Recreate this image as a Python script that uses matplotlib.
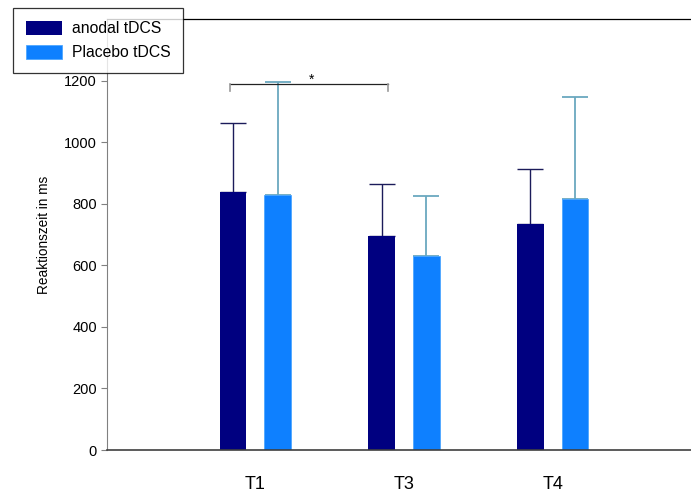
import numpy as np
import matplotlib
matplotlib.use("Agg")
import matplotlib.pyplot as plt

plt.rcParams['font.family'] = ['Liberation Sans', 'DejaVu Sans']

# values (ms)
sessions = ["T1", "T3", "T4"]
anodal_mean = [839, 694, 734]
anodal_sd = [224, 170, 179]
placebo_mean = [827, 631, 815]
placebo_sd = [369, 195, 333]
y_ticks = [0, 200, 400, 600, 800, 1000, 1200]

col_anodal = "#000080"
col_placebo = "#0E80FF"

fig = plt.figure(figsize=(6.91, 4.97), dpi=100)
ax = fig.add_axes([106.5 / 691, 47 / 497, 1 - 106.5 / 691, 431 / 497])

x = np.arange(len(sessions))
w = 0.18
off = 0.15

ax.bar(x - off, anodal_mean, w, color=col_anodal, label="anodal tDCS", zorder=2)
ax.bar(x + off, placebo_mean, w, color=col_placebo, edgecolor="#4da6ff",
       linewidth=0.6, label="Placebo tDCS", zorder=2)

ax.errorbar(x - off, anodal_mean, yerr=[np.zeros(3), anodal_sd], fmt="none",
            ecolor="#1b1b5a", elinewidth=1.0, capsize=9.5, capthick=1.0, zorder=1)
ax.errorbar(x + off, placebo_mean, yerr=[np.zeros(3), placebo_sd], fmt="none",
            ecolor="#6aa8bf", elinewidth=1.3, capsize=9.5, capthick=1.3, zorder=1)

# significance bracket T1 vs T3
bx0, bx1, by = -0.171, 0.892, 1189
ax.plot([bx0, bx1], [by, by], color="#222222", lw=0.9, zorder=3)
ax.plot([bx0, bx0], [by, by - 22], color="#999999", lw=1.2, zorder=3)
ax.plot([bx1, bx1], [by, by - 22], color="#999999", lw=1.2, zorder=3)
ax.text(0.377, by - 8, "*", ha="center", va="bottom", fontsize=10, color="black")

ax.set_xlim(-1, 2.93)
ax.set_ylim(0, 1400)
ax.set_yticks(y_ticks)
ax.set_xticks(x)
ax.set_xticklabels(sessions, fontsize=13)
ax.tick_params(axis="x", length=0, pad=19)
ax.tick_params(axis="y", length=4, width=0.8, color="#808080", labelsize=10.5, pad=3)
ax.set_ylabel("Reaktionszeit in ms", fontsize=9.8, labelpad=9)

ax.spines["right"].set_visible(False)
ax.spines["left"].set_color("#808080")
ax.spines["bottom"].set_color("#404040")
ax.spines["bottom"].set_linewidth(1.2)
ax.spines["top"].set_color("black")
ax.spines["top"].set_linewidth(0.9)

leg = fig.legend(loc="upper left", bbox_to_anchor=(13 / 691, 1 - 8 / 497),
                 bbox_transform=fig.transFigure, borderaxespad=0, fontsize=11.3,
                 frameon=True, fancybox=False, edgecolor="black",
                 handlelength=2.35, handleheight=1.0, handletextpad=0.6,
                 borderpad=0.8, labelspacing=0.55)
leg.get_frame().set_linewidth(0.9)

fig.savefig("out.png", dpi=100)
